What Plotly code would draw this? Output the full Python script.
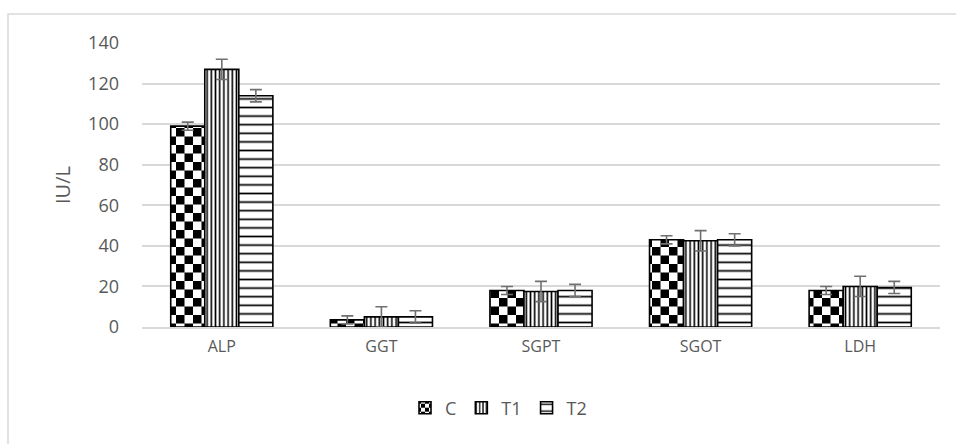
import plotly.graph_objects as go

categories = ["ALP", "GGT", "SGPT", "SGOT", "LDH"]
c_vals = [99, 3.5, 18, 43, 18]
t1_vals = [127, 5, 17.5, 42.5, 20]
t2_vals = [114, 5, 18, 43, 19.5]
c_err = [2, 2, 2, 2, 2]
t1_err = [5, 5, 5, 5, 5]
t2_err = [3, 3, 3, 3, 3]
y_ticks = [0, 20, 40, 60, 80, 100, 120, 140]

FONT = "Open Sans"
TXT = "#595959"
ERR = "#707070"

L, R, T, B = 142, 16, 43, 117
PW, PH = 956 - L - R, 444 - T - B


def bar(name, vals, err, shape, size, solidity):
    return go.Bar(
        name=name, x=categories, y=vals,
        error_y=dict(type="data", array=err, visible=True, color=ERR, thickness=1.6, width=6),
        marker=dict(
            color="white",
            line=dict(color="black", width=1.6),
            pattern=dict(shape=shape, size=size, solidity=solidity, fgcolor="black",
                         bgcolor="white", fillmode="replace"),
        ),
    )


fig = go.Figure([
    bar("C", c_vals, c_err, ".", 17, 0.5),
    bar("T1", t1_vals, t1_err, "|", 4.2, 0.38),
    bar("T2", t2_vals, t2_err, "-", 8.6, 0.2),
])

fig.update_layout(
    width=956, height=444,
    margin=dict(l=L, r=R, t=T, b=B),
    paper_bgcolor="white", plot_bgcolor="white",
    barmode="group", bargap=0.36, bargroupgap=0,
    font=dict(family=FONT, color=TXT, size=15),
    showlegend=True,
    legend=dict(orientation="h", x=(405 - L) / PW, xanchor="left", y=-(408 - 327) / PH, yanchor="middle",
                font=dict(size=18, color=TXT), traceorder="normal", itemwidth=30),
    xaxis=dict(showgrid=False, showline=True, linecolor="#d9d9d9", linewidth=1.5,
               ticks="", ticklabelstandoff=4, tickfont=dict(size=16, color=TXT)),
    yaxis=dict(range=[0, 140], tickvals=y_ticks, showgrid=True, gridcolor="#d9d9d9",
               gridwidth=1.5, zeroline=False, showline=False, ticks="",
               ticklabelstandoff=22,
               title=dict(text="IU/L", font=dict(size=20, color=TXT), standoff=12),
               tickfont=dict(size=18, color=TXT)),
    shapes=[dict(type="rect", xref="paper", yref="paper",
                 x0=(8 - L) / PW, x1=1 + (R + 20) / PW, y0=-(B + 20) / PH, y1=1 + (T - 14) / PH,
                 line=dict(color="#d9d9d9", width=1.5), fillcolor="rgba(0,0,0,0)", layer="below")],
)

post = """
document.body.style.margin = '0';
var gd = document.getElementById('{plot_id}');
function fixPat() {
  var ns = 'http://www.w3.org/2000/svg';
  document.querySelectorAll('pattern').forEach(function (p) {
    var c = p.querySelector('circle');
    if (!c) return;
    var s = parseFloat(p.getAttribute('width'));
    var h = s / 2;
    var path = document.createElementNS(ns, 'path');
    path.setAttribute('d', 'M0,0h' + h + 'v' + h + 'h-' + h + 'z M' + h + ',' + h + 'h' + h + 'v' + h + 'h-' + h + 'z');
    path.setAttribute('fill', 'black');
    c.parentNode.replaceChild(path, c);
  });
}
fixPat();
gd.on('plotly_afterplot', fixPat);
"""

fig.write_html("out.html", post_script=post, config={"displayModeBar": False})
